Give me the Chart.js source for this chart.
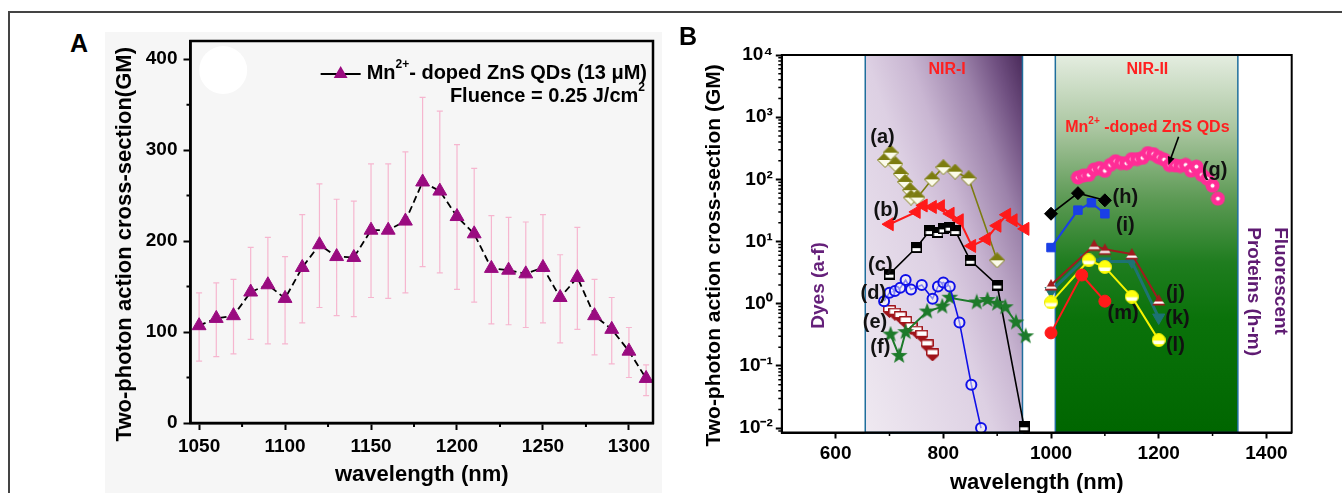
<!DOCTYPE html>
<html>
<head>
<meta charset="utf-8">
<script src="https://cdn.jsdelivr.net/npm/chart.js@4.4.1/dist/chart.umd.min.js"></script>
<style>
  html, body { margin: 0; padding: 0; background: #fff; }
  body { width: 1342px; height: 493px; position: relative; overflow: hidden; font-family: "Liberation Sans", Arial, sans-serif; }
  #frame { position: absolute; left: 8px; top: 11px; width: 1340px; height: 490px; border-top: 2px solid #444; border-left: 2px solid #444; }
  #panelA { position: absolute; left: 105px; top: 32px; width: 557px; height: 461px; background: #f6f6f6; }
  #panelB { position: absolute; left: 665px; top: 32px; width: 677px; height: 461px; }
  .tag { position: absolute; font: bold 25px "Liberation Sans", Arial, sans-serif; color: #000; line-height: 25px; }
</style>
</head>
<body>
<div id="frame"></div>
<div id="panelA"><canvas id="chartA" width="557" height="461"></canvas></div>
<div id="panelB"><canvas id="chartB" width="677" height="461"></canvas></div>
<div class="tag" style="left:70px;top:31px">A</div>
<div class="tag" style="left:679px;top:24px">B</div>
<script>
// ---- panel A : Mn2+-doped ZnS QDs ----
const wavelengthA = [1050, 1060, 1070, 1080, 1090, 1100, 1110, 1120, 1130, 1140, 1150, 1160, 1170, 1180,
  1190, 1200, 1210, 1220, 1230, 1240, 1250, 1260, 1270, 1280, 1290, 1300, 1310];
const crossA = [107, 115, 118, 144, 152, 137, 171, 196, 183, 182, 212, 212, 222, 265,
  255, 227, 208, 170, 168, 164, 171, 138, 160, 118, 103, 79, 49];
const errHiA = [143, 154, 158, 193, 204, 183, 229, 263, 246, 244, 285, 285, 298, 358,
  343, 306, 280, 228, 226, 221, 229, 185, 215, 158, 138, 105, 64];
const errLoA = [68, 73, 76, 92, 87, 87, 110, 127, 118, 117, 138, 137, 143, 172,
  165, 147, 133, 109, 108, 105, 110, 88, 103, 75, 65, 50, 30];
const xTicksA = [1050, 1100, 1150, 1200, 1250, 1300];
const yTicksA = [0, 100, 200, 300, 400];

// ---- panel B : dyes (a-f), QDs (g), fluorescent proteins (h-m) ----
const aWl = [692, 702, 711, 721, 729, 738, 740, 752, 779, 800, 822, 847, 900];
const aGM = [205, 269, 176, 122, 91, 67, 51, 51, 100, 157, 133, 104, 5];
const bWl = [700, 750, 763, 780, 795, 813, 830, 853, 880, 900, 918, 930, 952];
const bGM = [19, 30, 38, 36, 37, 28, 22, 8.5, 11, 18, 27, 22, 16];
const cWl = [700, 750, 775, 790, 800, 812, 822, 850, 900, 950];
const cGM = [3, 8, 15, 14, 16, 17, 15, 5, 2, 0.0105];
const dWl = [690, 700, 710, 720, 730, 740, 760, 780, 790, 800, 812, 830, 852, 870];
const dGM = [1.1, 1.5, 1.6, 1.8, 2.4, 1.7, 2.0, 1.2, 1.9, 2.2, 1.9, 0.5, 0.05, 0.01];
const eWl = [700, 710, 720, 730, 740, 750, 760, 770, 780];
const eGM = [0.75, 0.68, 0.6, 0.5, 0.4, 0.35, 0.3, 0.21, 0.15];
const fWl = [702, 718, 730, 770, 798, 812, 862, 882, 900, 915, 935, 953];
const fGM = [0.32, 0.145, 0.35, 0.75, 0.9, 1.25, 1.05, 1.15, 1.0, 0.88, 0.5, 0.3];
const hWl = [1000, 1050, 1100];
const hGM = [28, 60, 46];
const iWl = [1000, 1050, 1075, 1100];
const iGM = [8, 32, 42, 28];
const jWl = [1000, 1080, 1100, 1150, 1200];
const jGM = [2, 8.7, 7.5, 6.3, 1.15];
const kWl = [1000, 1065, 1100, 1150, 1200];
const kGM = [1.6, 5.5, 4.8, 4.8, 0.6];
const lWl = [1000, 1070, 1100, 1150, 1200];
const lGM = [1.05, 5, 3.9, 1.3, 0.26];
const mWl = [1000, 1057, 1100];
const mGM = [0.34, 2.9, 1.1];
const xTicksB = [600, 800, 1000, 1200, 1400];
const yTicksB = [1e-2, 1e-1, 1, 10, 100, 1e3, 1e4];
const windowsB = [{ name: 'NIR-I', from: 655, to: 947 }, { name: 'NIR-II', from: 1008, to: 1347 }];

const FAM = '"Liberation Sans", Arial, sans-serif';
Chart.defaults.font.family = FAM;
Chart.defaults.color = '#000';

const SUP = { '-': '\u207B', '0': '\u2070', '1': '\u00B9', '2': '\u00B2', '3': '\u00B3', '4': '\u2074' };
const pow10 = v => '10' + String(Math.round(Math.log10(v))).split('').map(c => SUP[c]).join('');

// text made of normal and superscript runs
function drawRuns(ctx, runs, x, y, size, weight, color, align) {
  const big = `${weight} ${size}px ${FAM}`;
  const small = `${weight} ${Math.round(size * 0.62)}px ${FAM}`;
  const parts = runs.map(r => typeof r === 'string' ? { t: r, sup: false } : r);
  let total = 0;
  parts.forEach(p => { ctx.font = p.sup ? small : big; p.w = ctx.measureText(p.t).width; total += p.w; });
  let cx = align === 'right' ? x - total : align === 'left' ? x : x - total / 2;
  const left = cx;
  ctx.fillStyle = color;
  ctx.textBaseline = 'middle';
  ctx.textAlign = 'left';
  parts.forEach(p => {
    ctx.font = p.sup ? small : big;
    ctx.fillText(p.t, cx, p.sup ? y - size * 0.4 : y);
    cx += p.w;
  });
  return left;
}

function zeroPad(s) { s.paddingTop = 0; s.paddingBottom = 0; s.paddingLeft = 0; s.paddingRight = 0; }

const frameBox = {
  id: 'frameBox',
  afterDraw(chart, args, opts) {
    const { ctx, chartArea: a } = chart;
    ctx.save();
    ctx.strokeStyle = '#000';
    ctx.lineWidth = opts.width;
    ctx.strokeRect(a.left, a.top, a.right - a.left, a.bottom - a.top);
    ctx.restore();
  }
};

// short unlabeled ticks between the labelled ones
const minorTicks = {
  id: 'minorTicks',
  afterDraw(chart, args, opts) {
    const { ctx, chartArea: a, scales: { x, y } } = chart;
    ctx.save();
    ctx.strokeStyle = '#000';
    ctx.lineWidth = opts.width;
    ctx.beginPath();
    opts.x.forEach(v => {
      const px = x.getPixelForValue(v);
      if (px <= a.left + 1 || px >= a.right - 1) return;
      ctx.moveTo(px, a.bottom); ctx.lineTo(px, a.bottom + opts.len);
    });
    opts.y.forEach(v => {
      const py = y.getPixelForValue(v);
      if (py <= a.top + 1 || py >= a.bottom - 1) return;
      ctx.moveTo(a.left, py); ctx.lineTo(a.left - opts.len, py);
    });
    ctx.stroke();
    ctx.restore();
  }
};

const errorBars = {
  id: 'errorBars',
  beforeDatasetsDraw(chart, args, opts) {
    const { ctx, scales: { x, y } } = chart;
    ctx.save();
    ctx.strokeStyle = opts.color;
    ctx.lineWidth = 1.2;
    ctx.beginPath();
    opts.x.forEach((w, i) => {
      const px = x.getPixelForValue(w);
      const top = y.getPixelForValue(opts.hi[i]);
      const bot = y.getPixelForValue(opts.lo[i]);
      ctx.moveTo(px, top); ctx.lineTo(px, bot);
      ctx.moveTo(px - opts.cap, top); ctx.lineTo(px + opts.cap, top);
      ctx.moveTo(px - opts.cap, bot); ctx.lineTo(px + opts.cap, bot);
    });
    ctx.stroke();
    ctx.restore();
  }
};

// white blotch in the scanned panel A
const glare = {
  id: 'glare',
  beforeDatasetsDraw(chart, args, opts) {
    const { ctx, scales: { x, y } } = chart;
    ctx.save();
    ctx.fillStyle = '#fff';
    ctx.beginPath();
    ctx.arc(x.getPixelForValue(opts.x), y.getPixelForValue(opts.y), opts.r, 0, Math.PI * 2);
    ctx.fill();
    ctx.restore();
  }
};

const legendA = {
  id: 'legendA',
  afterDatasetsDraw(chart) {
    const { ctx, chartArea: a } = chart;
    ctx.save();
    const y1 = a.top + 32, y2 = a.top + 55;
    const left = drawRuns(ctx, ['Mn', { t: '2+', sup: true }, '- doped ZnS QDs (13 \u03BCM)'], a.right - 6, y1, 20, 'bold', '#000', 'right');
    ctx.strokeStyle = '#000';
    ctx.lineWidth = 2;
    ctx.beginPath(); ctx.moveTo(left - 46, y1 + 1); ctx.lineTo(left - 6, y1 + 1); ctx.stroke();
    const cx = left - 26, r = 8;
    ctx.fillStyle = '#9a0b80';
    ctx.beginPath();
    ctx.moveTo(cx, y1 + 1 - r); ctx.lineTo(cx + r * 0.866, y1 + 1 + r / 2); ctx.lineTo(cx - r * 0.866, y1 + 1 + r / 2);
    ctx.closePath(); ctx.fill();
    drawRuns(ctx, ['Fluence = 0.25 J/cm', { t: '2', sup: true }], a.right - 8, y2, 20, 'bold', '#000', 'right');
    ctx.restore();
  }
};

// shaded NIR windows
const windows = {
  id: 'windows',
  beforeDatasetsDraw(chart, args, opts) {
    const { ctx, chartArea: a, scales: { x } } = chart;
    ctx.save();
    opts.items.forEach((w, n) => {
      const l = x.getPixelForValue(w.from), r = x.getPixelForValue(w.to);
      const W = r - l, H = a.bottom - a.top;
      let g;
      if (n === 0) {
        // darkest in the upper right corner, lightest lower left
        const gx = 0.55 / W, gy = -0.45 / H, n2 = gx * gx + gy * gy;
        g = ctx.createLinearGradient(l, a.bottom, l + gx / n2, a.bottom + gy / n2);
        g.addColorStop(0, '#efe9f1');
        g.addColorStop(0.45, '#ddd0e3');
        g.addColorStop(0.6, '#c9b6d2');
        g.addColorStop(0.78, '#9c82aa');
        g.addColorStop(0.9, '#6f4f80');
        g.addColorStop(1, '#4a2a5a');
      } else {
        g = ctx.createLinearGradient(0, a.top, 0, a.bottom);
        g.addColorStop(0, '#e4ede0');
        g.addColorStop(0.2, '#a9c59f');
        g.addColorStop(0.38, '#5d9a55');
        g.addColorStop(0.55, '#1f7d1f');
        g.addColorStop(0.7, '#0a720a');
        g.addColorStop(1, '#006600');
      }
      ctx.fillStyle = g;
      ctx.fillRect(l, a.top, W, H);
      ctx.strokeStyle = '#1f6e9c';
      ctx.lineWidth = 1.5;
      ctx.strokeRect(l, a.top, W, H);
    });
    ctx.restore();
  }
};

const notes = {
  id: 'notes',
  afterDatasetsDraw(chart, args, opts) {
    const { ctx, scales: { x, y } } = chart;
    ctx.save();
    opts.items.forEach(n => {
      ctx.save();
      ctx.translate(x.getPixelForValue(n.x), y.getPixelForValue(n.y));
      ctx.rotate((n.rot || 0) * Math.PI / 180);
      drawRuns(ctx, n.runs, 0, 0, n.size, n.weight || 'bold', n.color || '#111', n.align || 'center');
      ctx.restore();
    });
    const ar = opts.arrow;
    const x0 = x.getPixelForValue(ar.from[0]), y0 = y.getPixelForValue(ar.from[1]);
    const x1 = x.getPixelForValue(ar.to[0]), y1 = y.getPixelForValue(ar.to[1]);
    const ang = Math.atan2(y1 - y0, x1 - x0);
    ctx.strokeStyle = '#000'; ctx.fillStyle = '#000'; ctx.lineWidth = 1.6;
    ctx.beginPath(); ctx.moveTo(x0, y0); ctx.lineTo(x1 - 6 * Math.cos(ang), y1 - 6 * Math.sin(ang)); ctx.stroke();
    ctx.beginPath();
    ctx.moveTo(x1, y1);
    ctx.lineTo(x1 - 9 * Math.cos(ang - 0.4), y1 - 9 * Math.sin(ang - 0.4));
    ctx.lineTo(x1 - 9 * Math.cos(ang + 0.4), y1 - 9 * Math.sin(ang + 0.4));
    ctx.closePath(); ctx.fill();
    ctx.restore();
  }
};

// ---- marker sprites for panel B ----
function sprite(size, paint) {
  const c = document.createElement('canvas');
  c.width = size; c.height = size;
  paint(c.getContext('2d'), size);
  return c;
}
const halfDiamond = sprite(16, (g, s) => {
  const h = s / 2;
  g.beginPath(); g.moveTo(h, 0.5); g.lineTo(s - 0.5, h); g.lineTo(h, s - 0.5); g.lineTo(0.5, h); g.closePath();
  g.fillStyle = '#fbfbea'; g.fill();
  g.save(); g.clip(); g.fillStyle = '#7c7c10'; g.fillRect(0, 0, s, h); g.restore();
  g.strokeStyle = '#7c7c10'; g.lineWidth = 1; g.stroke();
});
const halfSquare = sprite(11, (g, s) => {
  g.fillStyle = '#000'; g.fillRect(0, 0, s, s);
  g.fillStyle = '#fff'; g.fillRect(1.5, 6, s - 3, 3);
});
const halfPentagon = sprite(13, (g, s) => {
  g.beginPath(); g.moveTo(0.5, 0.5); g.lineTo(12.5, 0.5); g.lineTo(12.5, 7); g.lineTo(6.5, 12.5); g.lineTo(0.5, 7); g.closePath();
  g.fillStyle = '#a0141a'; g.fill();
  g.save(); g.clip(); g.fillStyle = '#fff'; g.fillRect(1.5, 1.5, 10, 4.5); g.restore();
  g.strokeStyle = '#a0141a'; g.lineWidth = 1; g.stroke();
});
const star = sprite(18, (g, s) => {
  const c = s / 2;
  g.beginPath();
  for (let k = 0; k < 10; k++) {
    const r = k % 2 ? 3.6 : 8.8, t = -Math.PI / 2 + k * Math.PI / 5;
    g.lineTo(c + r * Math.cos(t), c + r * Math.sin(t));
  }
  g.closePath();
  g.fillStyle = '#1d7a2a'; g.fill();
});
const dotCircle = sprite(15, (g, s) => {
  g.beginPath(); g.arc(7.5, 7.5, 7, 0, Math.PI * 2); g.fillStyle = '#ff2d96'; g.fill();
  g.beginPath(); g.arc(7.5, 7.5, 2, 0, Math.PI * 2); g.fillStyle = '#fff'; g.fill();
});
const stripeTriangle = sprite(14, (g, s) => {
  g.beginPath(); g.moveTo(7, 1); g.lineTo(13.5, 12.5); g.lineTo(0.5, 12.5); g.closePath();
  g.fillStyle = '#a11a1e'; g.fill();
  g.save(); g.clip(); g.fillStyle = '#fff'; g.fillRect(0, 8.5, s, 2.2); g.restore();
});
const halfYellow = sprite(14, (g, s) => {
  g.beginPath(); g.arc(7, 7, 6.5, 0, Math.PI * 2);
  g.fillStyle = '#ffff10'; g.fill();
  g.save(); g.clip(); g.fillStyle = '#fffff0'; g.fillRect(0, 7.5, s, 3.5); g.restore();
  g.strokeStyle = '#e8e800'; g.lineWidth = 1; g.stroke();
});

function series(xs, ys, color, style, extra) {
  return Object.assign({
    data: xs.map((x, i) => ({ x, y: ys[i] })),
    borderColor: color, backgroundColor: color,
    pointBackgroundColor: color, pointBorderColor: color,
    borderWidth: 1.6, pointStyle: style, pointRadius: 6, pointBorderWidth: 1
  }, extra || {});
}

function midTicks(ticks) {
  const out = [];
  const step = ticks[1] - ticks[0];
  for (let v = ticks[0] - step / 2; v <= ticks[ticks.length - 1] + step / 2; v += step) out.push(v);
  return out;
}
const logMinor = [];
for (let e = -3; e < 4; e++) for (let k = 2; k < 10; k++) logMinor.push(k * Math.pow(10, e));

const tickFont = { size: 19, weight: 'bold' };

// ---- chart A ----
new Chart(document.getElementById('chartA'), {
  type: 'line',
  data: {
    datasets: [{
      data: wavelengthA.map((w, i) => ({ x: w, y: crossA[i] })),
      borderColor: '#000', borderWidth: 1.8, borderDash: [7, 4],
      pointStyle: 'triangle', pointRadius: 8,
      pointBackgroundColor: '#9a0b80', pointBorderColor: '#9a0b80', pointBorderWidth: 1
    }]
  },
  options: {
    responsive: false, animation: false,
    layout: { padding: { top: 8, right: 7, left: 0, bottom: 0 } },
    plugins: {
      legend: { display: false }, tooltip: { enabled: false },
      errorBars: { x: wavelengthA, hi: errHiA, lo: errLoA, color: '#f6b6cf', cap: 3 },
      glare: { x: 1064, y: 388, r: 24 },
      minorTicks: { x: midTicks(xTicksA), y: midTicks(yTicksA), len: 4, width: 2 },
      frameBox: { width: 2.5 }
    },
    scales: {
      x: {
        type: 'linear', min: 1045, max: 1314,
        afterBuildTicks: s => { s.ticks = xTicksA.map(v => ({ value: v })); },
        afterFit: s => { s.height = 70; zeroPad(s); },
        ticks: { font: tickFont, color: '#000', padding: 5, maxRotation: 0, autoSkip: false, callback: v => String(v) },
        grid: { drawOnChartArea: false, tickLength: 7, tickWidth: 2, tickColor: '#000' },
        border: { color: '#000', width: 2.5 },
        title: { display: true, text: 'wavelength (nm)', font: { size: 22, weight: 'bold' }, color: '#000', padding: { top: 0, bottom: 5 } }
      },
      y: {
        min: 0, max: 420,
        afterBuildTicks: s => { s.ticks = yTicksA.map(v => ({ value: v })); },
        afterFit: s => { s.width = 85.5; zeroPad(s); },
        ticks: { font: tickFont, color: '#000', padding: 6, callback: v => String(v) },
        grid: { drawOnChartArea: false, tickLength: 7, tickWidth: 2, tickColor: '#000' },
        border: { color: '#000', width: 2.5 },
        title: { display: true, text: 'Two-photon action cross-section(GM)\u00a0\u00a0\u00a0\u00a0', font: { size: 22, weight: 'bold' }, color: '#000', padding: { top: 7, bottom: 0 } }
      }
    }
  },
  plugins: [errorBars, glare, minorTicks, frameBox, legendA]
});

// ---- chart B ----
new Chart(document.getElementById('chartB'), {
  type: 'line',
  data: {
    datasets: [
      series(wavelengthA, crossA, '#ff2d96', dotCircle, { borderWidth: 1 }),
      series(hWl, hGM, '#000', 'rectRot', { pointRadius: 6.5 }),
      series(iWl, iGM, '#1a3fe6', 'rect', { pointRadius: 6, borderWidth: 2 }),
      series(mWl, mGM, '#ff1a1a', 'circle', { pointRadius: 6, borderWidth: 2 }),
      series(lWl, lGM, '#f4f400', halfYellow, { borderWidth: 2 }),
      series(jWl, jGM, '#a11a1e', stripeTriangle, { borderWidth: 2 }),
      series(kWl, kGM, '#1d7373', 'triangle', { pointRotation: 180, pointRadius: 7, borderWidth: 3 }),
      series(dWl, dGM, '#1010e8', 'circle', { pointRadius: 5, pointBorderWidth: 2, pointBackgroundColor: 'rgba(255,255,255,0.5)' }),
      series(fWl, fGM, '#1d7a2a', star, { borderWidth: 2 }),
      series(eWl, eGM, '#a0141a', halfPentagon),
      series(cWl, cGM, '#000', halfSquare),
      series(bWl, bGM, '#ff1a1a', 'triangle', { pointRotation: -90, pointRadius: 7.5, borderWidth: 2 }),
      series(aWl, aGM, '#7c7c10', halfDiamond)
    ]
  },
  options: {
    responsive: false, animation: false,
    layout: { padding: { top: 23, right: 50.3, left: 0, bottom: 0 } },
    plugins: {
      legend: { display: false }, tooltip: { enabled: false },
      windows: { items: windowsB },
      minorTicks: { x: midTicks(xTicksB), y: logMinor, len: 3.5, width: 1.5 },
      frameBox: { width: 2 },
      notes: {
        items: [
          { runs: ['NIR-I'], x: 807, y: 5800, size: 16, color: '#ff2020' },
          { runs: ['NIR-II'], x: 1179, y: 5800, size: 16, color: '#ff2020' },
          { runs: ['Mn', { t: '2+', sup: true }, ' -doped ZnS QDs'], x: 1179, y: 690, size: 16, color: '#ff2020' },
          { runs: ['(a)'], x: 687, y: 466, size: 20 },
          { runs: ['(b)'], x: 694, y: 32, size: 20 },
          { runs: ['(c)'], x: 683, y: 4.1, size: 20 },
          { runs: ['(d)'], x: 670, y: 1.47, size: 20 },
          { runs: ['(e)'], x: 673, y: 0.5, size: 20 },
          { runs: ['(f)'], x: 683, y: 0.2, size: 20 },
          { runs: ['(g)'], x: 1304, y: 141, size: 20 },
          { runs: ['(h)'], x: 1138, y: 52, size: 20 },
          { runs: ['(i)'], x: 1138, y: 18, size: 20 },
          { runs: ['(j)'], x: 1231, y: 1.47, size: 20 },
          { runs: ['(k)'], x: 1235, y: 0.58, size: 20 },
          { runs: ['(l)'], x: 1231, y: 0.21, size: 20 },
          { runs: ['(m)'], x: 1134, y: 0.7, size: 20 },
          { runs: ['Dyes (a-f)'], x: 569, y: 1.97, size: 19, color: '#65207a', rot: -90 },
          { runs: ['Fluorescent'], x: 1425, y: 17, size: 19, color: '#5e1a72', rot: 90, align: 'left' },
          { runs: ['Proteins (h-m)'], x: 1375, y: 17, size: 19, color: '#5e1a72', rot: 90, align: 'left' }
        ],
        arrow: { from: [1237, 486], to: [1218, 170] }
      }
    },
    scales: {
      x: {
        type: 'linear', min: 500, max: 1447,
        afterBuildTicks: s => { s.ticks = xTicksB.map(v => ({ value: v })); },
        afterFit: s => { s.height = 60.5; zeroPad(s); },
        ticks: { font: tickFont, color: '#000', padding: 4, maxRotation: 0, autoSkip: false, callback: v => String(v) },
        grid: { drawOnChartArea: false, tickLength: 6, tickWidth: 2, tickColor: '#000' },
        border: { color: '#000', width: 2 },
        title: { display: true, text: 'wavelength (nm)', font: { size: 22, weight: 'bold' }, color: '#000', padding: { top: 0, bottom: -3 } }
      },
      y: {
        type: 'logarithmic', min: 0.0085, max: 10000,
        afterBuildTicks: s => { s.ticks = yTicksB.map(v => ({ value: v })); },
        afterFit: s => { s.width = 116.8; zeroPad(s); },
        ticks: { font: tickFont, color: '#000', padding: 3, autoSkip: false, callback: v => pow10(v) },
        grid: { drawOnChartArea: false, tickLength: 6, tickWidth: 2, tickColor: '#000' },
        border: { color: '#000', width: 2 },
        title: { display: true, text: 'Two-photon action cross-section (GM)\u00a0\u00a0\u00a0\u00a0', font: { size: 21, weight: 'bold' }, color: '#000', padding: { top: 37, bottom: 0 } }
      }
    }
  },
  plugins: [windows, minorTicks, frameBox, notes]
});
</script>
</body>
</html>
